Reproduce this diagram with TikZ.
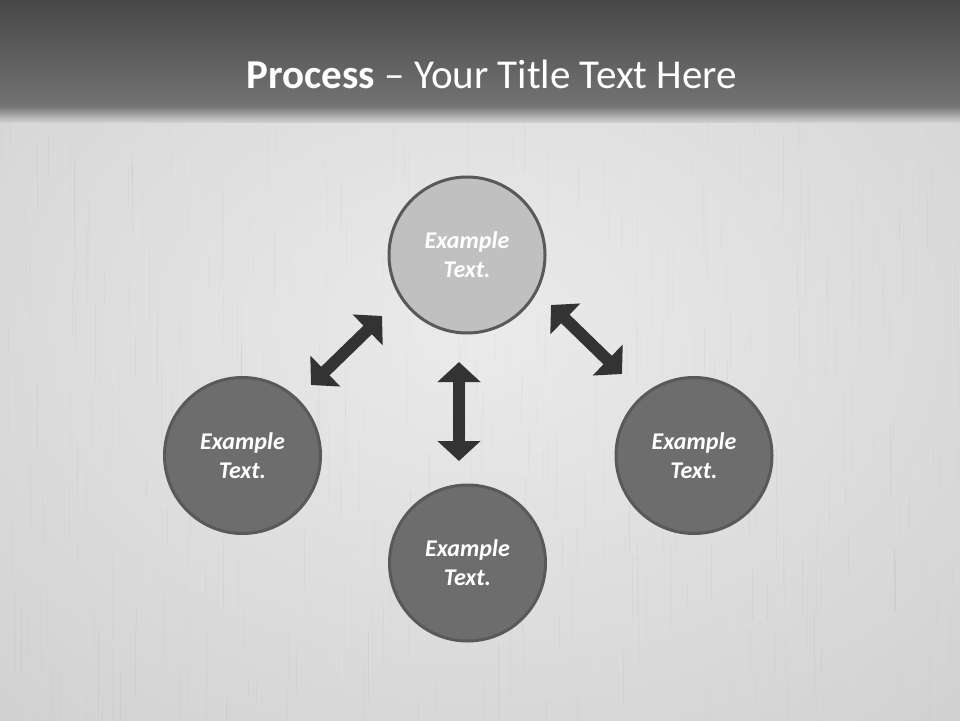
\documentclass[tikz,border=0pt]{standalone}
\usepackage{fontspec}
\setmainfont{Carlito}
\usetikzlibrary{arrows.meta}
\definecolor{hdtop}{HTML}{474747}
\definecolor{hdbot}{HTML}{737373}
\definecolor{bglight}{HTML}{EBEBEB}
\definecolor{bgdark}{HTML}{CFCFCF}
\definecolor{circlight}{HTML}{C0C0C0}
\definecolor{circdark}{HTML}{6D6D6D}
\definecolor{circborder}{HTML}{595959}
\definecolor{arrowcol}{HTML}{333333}
\tikzset{
  stepcircle/.style={circle, draw=circborder, line width=3pt, minimum size=156pt,
    inner sep=0pt, align=center, text=white,
    font=\fontsize{24pt}{29pt}\selectfont\bfseries\itshape},
  darkcircle/.style={stepcircle, fill=circdark},
  lightcircle/.style={stepcircle, fill=circlight},
  dblarrow/.style={draw=arrowcol, line width=12pt,
    arrows={Triangle[width=42pt,length=20pt]-Triangle[width=42pt,length=20pt]}},
}
\begin{document}
\begin{tikzpicture}[x=1pt,y=-1pt]
\useasboundingbox (0,0) rectangle (960,720);
% body background
\fill[bgdark] (0,0) rectangle (960,720);
\shade[inner color=bglight, outer color=bgdark] (-300,-250) rectangle (1260,900);
% brushed texture
\pgfmathsetseed{7}
\foreach \i in {1,...,700}{
  \pgfmathsetmacro{\xx}{random(0,960)}
  \pgfmathsetmacro{\ya}{random(100,700)}
  \pgfmathsetmacro{\yl}{random(15,90)}
  \pgfmathsetmacro{\op}{random(2,7)/100}
  \ifodd\i
    \draw[white, line width=0.6pt, opacity=\op] (\xx,\ya) -- ++(0,\yl);
  \else
    \draw[black, line width=0.6pt, opacity=\op/2] (\xx,\ya) -- ++(0,\yl);
  \fi
}
% header band
\shade[top color=hdtop, bottom color=hdbot] (0,0) rectangle (960,106);
\shade[top color=hdbot, bottom color=bgdark] (0,106) rectangle (960,122);
% title
\node[anchor=base, text=white, font=\fontsize{41pt}{48pt}\selectfont] (title) at (492,88)
  {\textbf{Process} – Your Title Text Here};
% circles
\node[lightcircle] (top) at (467,255) {Example\\Text.};
\node[darkcircle] (left) at (242.5,455.5) {Example\\Text.};
\node[darkcircle] (right) at (694,455.5) {Example\\Text.};
\node[darkcircle] (bottom) at (467.5,563) {Example\\Text.};
% arrow end points
\coordinate (la) at (311,385);
\coordinate (lb) at (382,316);
\coordinate (va) at (459,362);
\coordinate (vb) at (459,461);
\coordinate (ra) at (551,305);
\coordinate (rb) at (622,374);
\draw[dblarrow] (la) -- (lb);
\draw[dblarrow] (va) -- (vb);
\draw[dblarrow] (ra) -- (rb);
\end{tikzpicture}
\end{document}
